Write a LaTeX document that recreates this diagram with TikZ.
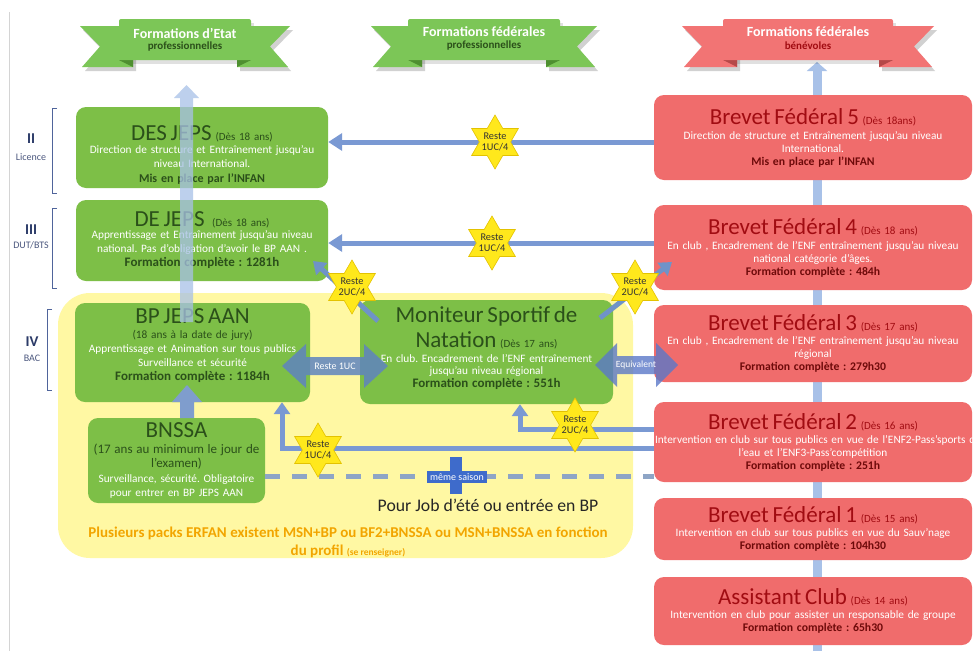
\documentclass[tikz,border=0pt]{standalone}
\usepackage{fontspec}
\setmainfont{Carlito}
\usetikzlibrary{shapes.geometric,arrows.meta,calc}
\definecolor{gfill}{HTML}{7DBF47}
\definecolor{gban}{HTML}{7CC657}
\definecolor{gbandark}{HTML}{4E8F30}
\definecolor{gdark}{HTML}{2B501A}
\definecolor{rfill}{HTML}{F06C6C}
\definecolor{rban}{HTML}{F27474}
\definecolor{rbandark}{HTML}{B54848}
\definecolor{rdark}{HTML}{A10C12}
\definecolor{rbold}{HTML}{6E0A0A}
\definecolor{yfill}{HTML}{FFF8A3}
\definecolor{harrow}{HTML}{7A99D3}
\definecolor{varrow}{HTML}{A8C1E8}
\definecolor{dblue}{HTML}{5F84C0}
\definecolor{eqblue}{HTML}{5B78C8}
\definecolor{diagc}{HTML}{6F93C8}
\definecolor{starf}{HTML}{FFE81C}
\definecolor{stard}{HTML}{E3C200}
\definecolor{navy}{HTML}{2C3B68}
\definecolor{brk}{HTML}{4F649B}
\definecolor{orangeT}{HTML}{F2A500}
\definecolor{dashc}{HTML}{8EA5C6}
\definecolor{plusb}{HTML}{3E6BCB}
\definecolor{gline}{HTML}{D4D4D4}
\newcommand{\gT}[1]{{\color{gdark}\fontsize{23}{23}\selectfont #1}}
\newcommand{\gS}[1]{{\color{gdark}\fontsize{11}{11}\selectfont #1}}
\newcommand{\gB}[1]{{\color{gdark}\bfseries\fontsize{13}{14}\selectfont #1}}
\newcommand{\gBs}[1]{{\color{gdark}\bfseries\fontsize{12}{13}\selectfont #1}}
\newcommand{\rT}[1]{{\color{rdark}\fontsize{23}{23}\selectfont #1}}
\newcommand{\rS}[1]{{\color{rdark}\fontsize{11}{11}\selectfont #1}}
\newcommand{\rB}[1]{{\color{rbold}\bfseries\fontsize{11.7}{13}\selectfont #1}}
\newcommand{\myribbon}[5]{%
  \fill[black,opacity=0.18] ({#1-#3+3},30) -- ({#1-#2+17},30) -- ({#1-#2+17},71) -- ({#1-#3+5},71) -- ({#1-#3+23},50.5) -- cycle;
  \fill[black,opacity=0.18] ({#1+#3+3},30) -- ({#1+#2-11},30) -- ({#1+#2-11},71) -- ({#1+#3+1},71) -- ({#1+#3-17},50.5) -- cycle;
  \fill[black,opacity=0.12] ({#1-#2+3},23) rectangle ({#1+#2+3},64);
  \fill[#4] ({#1-#3},26) -- ({#1-#2+14},26) -- ({#1-#2+14},67) -- ({#1-#3+2},67) -- ({#1-#3+20},46.5) -- cycle;
  \fill[#4] ({#1+#3},26) -- ({#1+#2-14},26) -- ({#1+#2-14},67) -- ({#1+#3-2},67) -- ({#1+#3-20},46.5) -- cycle;
  \fill[#5] ({#1-#2},60) -- ({#1-#2+14},67) -- ({#1-#2+14},60) -- cycle;
  \fill[#5] ({#1+#2},60) -- ({#1+#2-14},67) -- ({#1+#2-14},60) -- cycle;
  \fill[#4, rounded corners=2pt] ({#1-#2},19) rectangle ({#1+#2},60);
}
\tikzset{
  gbox/.style={fill=gfill, rounded corners=10pt, align=center, inner sep=0pt, text=white, font=\fontsize{11.3}{14}\selectfont},
  rbox/.style={fill=rfill, rounded corners=10pt, align=center, inner sep=0pt, text=white, font=\fontsize{11.3}{13}\selectfont, minimum width=318pt, text width=316pt},
  starshape/.style={star, star points=6, star point ratio=1.73, minimum size=54pt, inner sep=0pt, fill=starf, draw=stard, line width=0.6pt},
  startext/.style={align=center, inner sep=0pt, font=\fontsize{10.3}{11.5}\selectfont, text=black!80},
  hline/.style={draw=harrow, line width=5pt, -{Triangle[length=14pt,width=17pt]}},
  vline/.style={draw=harrow, line width=5pt, -{Triangle[length=12pt,width=16pt]}},
  diag/.style={draw=diagc, line width=5pt, -{Triangle[length=12pt,width=16pt]}},
  lvl/.style={text=navy, font=\bfseries\fontsize{15}{15}\selectfont, inner sep=0pt},
  lvls/.style={text=navy!85, font=\fontsize{10}{10}\selectfont, inner sep=0pt},
  bant/.style={text=white, font=\bfseries\fontsize{14}{14}\selectfont, inner sep=0pt},
  bans/.style={font=\bfseries\fontsize{11}{11}\selectfont, inner sep=0pt},
  dbltext/.style={text=white, font=\fontsize{10}{10}\selectfont, inner sep=0pt}
}
\begin{document}
\frenchspacing
\begin{tikzpicture}[x=1pt,y=-1pt]
\useasboundingbox (0,0) rectangle (974,651);
\fill[white] (0,0) rectangle (974,651);
\draw[gline, line width=1pt] (9,12) -- (9,651);
% right vertical arrow
\coordinate (rvbot) at (817,651);
\coordinate (rvtop) at (817,62);
\draw[varrow, line width=9pt, -{Triangle[length=9pt,width=20pt]}] (rvbot) -- (rvtop);
% banners
\myribbon{185}{66}{105}{gban}{gbandark}
\myribbon{484}{76}{113}{gban}{gbandark}
\myribbon{808}{85}{126}{rban}{rbandark}
\node[bant] (b1t) at (185,33) {Formations d’Etat};
\node[bans,text=gdark] (b1s) at (185,47) {professionnelles};
\node[bant] (b2t) at (484,32) {Formations fédérales};
\node[bans,text=gdark] (b2s) at (484,46) {professionnelles};
\node[bant] (b3t) at (808,32) {Formations fédérales};
\node[bans,text=rdark] (b3s) at (808,46) {bénévoles};
% level labels
\node[lvl] (l2) at (31,139) {II};
\node[lvls] (l2s) at (31,157) {Licence};
\draw[brk, line width=1pt] (57,108) -- (52,108) -- (52,193) -- (57,193);
\node[lvl] (l3) at (31,230) {III};
\node[lvls] (l3s) at (31,245) {DUT/BTS};
\draw[brk, line width=1pt] (57,208) -- (52,208) -- (52,288) -- (57,288);
\node[lvl] (l4) at (32,342) {IV};
\node[lvls] (l4s) at (32,358) {BAC};
\draw[brk, line width=1pt] (52,309) -- (47,309) -- (47,390) -- (52,390);
% yellow area
\fill[yfill, rounded corners=32pt] (58,293) rectangle (633,558);
% boxes
\node[gbox, minimum width=252pt, minimum height=81pt, text width=250pt, font=\fontsize{11.3}{14.5}\selectfont] (desjeps) at (202,147.5)
 {\rule{0pt}{30pt}\gT{DES JEPS} \gS{(Dès 18 ans)}\\[-2pt]
  Direction de structure et Entraînement jusqu’au\\
  niveau International.\\
  \gBs{Mis en place par l’INFAN}};
\node[gbox, minimum width=252pt, minimum height=81pt, text width=250pt] (dejeps) at (202,240.5)
 {\gT{DE JEPS} \ \gS{(Dès 18 ans)}\\[-2pt]
  Apprentissage et Entraînement jusqu’au niveau\\
  national. Pas d’obligation d’avoir le BP AAN .\\
  \gB{Formation complète : 1281h}};
\node[gbox, minimum width=235pt, minimum height=99pt, text width=233pt] (bpjeps) at (192.5,352.5)
 {\gT{BP JEPS AAN}\\[1pt]
  {\color{gdark}(18 ans à la date de jury)}\\
  Apprentissage et Animation sur tous publics\\
  Surveillance et sécurité\\
  \gB{Formation complète : 1184h}\\[2pt]\mbox{}};
\node[gbox, minimum width=177pt, minimum height=85pt, text width=175pt] (bnssa) at (176.5,460.5)
 {\gT{BNSSA}\\[2pt]
  {\color{gdark}\fontsize{13}{14}\selectfont (17 ans au minimum le jour de\\
  l’examen)}\\[1pt]
  Surveillance, sécurité. Obligatoire\\
  pour entrer en BP JEPS AAN};
\node[gbox, minimum width=253pt, minimum height=104pt, text width=251pt, font=\fontsize{11.3}{12.5}\selectfont] (msn) at (486.5,352)
 {\gT{Moniteur Sportif de}\\[5pt]
  \gT{Natation} \gS{(Dès 17 ans)}\\[2pt]
  En club. Encadrement de l’ENF entraînement\\
  jusqu’au niveau régional\\
  \gB{Formation complète : 551h}\\[-2pt]\mbox{}};
% red boxes
\node[rbox, minimum height=85pt] (bf5) at (813,137.5)
 {\rT{Brevet Fédéral 5} \rS{(Dès 18ans)}\\[2pt]
  Direction de structure et Entraînement jusqu’au niveau\\
  International.\\
  \rB{Mis en place par l’INFAN}};
\node[rbox, minimum height=85pt] (bf4) at (813,247.5)
 {\rT{Brevet Fédéral 4} \rS{(Dès 18 ans)}\\[2pt]
  En club , Encadrement de l’ENF entraînement jusqu’au niveau\\
  national catégorie d’âges.\\
  \rB{Formation complète : 484h}};
\node[rbox, minimum height=77pt] (bf3) at (813,343.5)
 {\rT{Brevet Fédéral 3} \rS{(Dès 17 ans)}\\[1pt]
  En club , Encadrement de l’ENF entraînement jusqu’au niveau\\
  régional\\
  \rB{Formation complète : 279h30}};
\node[rbox, minimum height=80pt] (bf2) at (813,442)
 {\rT{Brevet Fédéral 2} \rS{(Dès 16 ans)}\\[1pt]
  \mbox{Intervention en club sur tous publics en vue de l’ENF2-Pass’sports de}\\
  l’eau et l’ENF3-Pass’compétition\\
  \rB{Formation complète : 251h}};
\node[rbox, minimum height=62pt] (bf1) at (813,529)
 {\rT{Brevet Fédéral 1} \rS{(Dès 15 ans)}\\[1pt]
  Intervention en club sur tous publics en vue du Sauv’nage\\
  \rB{Formation complète : 104h30}};
\node[rbox, minimum height=68pt] (ac) at (813,611)
 {\rT{Assistant Club} \rS{(Dès 14 ans)}\\[1pt]
  Intervention en club pour assister un responsable de groupe\\
  \rB{Formation complète : 65h30}};
% stars (positions)
\coordinate (s1p) at (495,142);
\coordinate (s2p) at (492,243);
% horizontal arrows
\draw[hline] (bf5.west |- s1p) -- (desjeps.east |- s1p);
\draw[hline] (bf4.west |- s2p) -- (dejeps.east |- s2p);
% BF2 connectors
\draw[vline] (bf2.west |- 0,429) -| (520,0 |- msn.south);
\draw[vline] (bf2.west |- 0,448) -| (282,0 |- bpjeps.south);
% dashed
\draw[dashc, line width=5pt, dash pattern=on 15pt off 12pt] (bnssa.east |- 0,476) -- (bf2.west |- 0,476);
% big translucent arrow
\fill[varrow, opacity=0.75] (180,322) -- (180,98) -- (174,98) -- (186.5,85) -- (199,98) -- (193,98) -- (193,322) -- cycle;
% BNSSA -> BP
\fill[dblue!80!white] (180,418) -- (180,402) -- (172,402) -- (187,385) -- (202,402) -- (194,402) -- (194,418) -- cycle;
% double arrows
\fill[dblue, opacity=0.85] (282,366) -- (306,344) -- (306,357) -- (364,357) -- (364,344) -- (388,366) -- (364,388) -- (364,375) -- (306,375) -- (306,388) -- cycle;
\node[dbltext] (d1t) at (335,366) {Reste 1UC};
\fill[eqblue, opacity=0.8] (595,365) -- (617,343) -- (617,356) -- (656,356) -- (656,343) -- (678,365) -- (656,387) -- (656,374) -- (617,374) -- (617,387) -- cycle;
\node[dbltext, font=\fontsize{9.5}{10}\selectfont] (d2t) at (636,365) {Equivalent};
% diagonal arrows
\draw[diag] (378,321) -- (313,261);
\draw[diag] (600,318) -- (672,262);
% stars
\node[starshape] (s1) at (s1p) {};
\node[startext] at (s1) {Reste\\1UC/4};
\node[starshape] (s2) at (s2p) {};
\node[startext] at (s2) {Reste\\1UC/4};
\node[starshape] (s3) at (352,287) {};
\node[startext] at (s3) {Reste\\2UC/4};
\node[starshape] (s4) at (635,287) {};
\node[startext] at (s4) {Reste\\2UC/4};
\node[starshape] (s5) at (575,425) {};
\node[startext] at (s5) {Reste\\2UC/4};
\node[starshape] (s6) at (318,450) {};
\node[startext] at (s6) {Reste\\1UC/4};
% plus
\fill[plusb] (450,457) rectangle (462,494);
\node[fill=plusb, text=white, font=\fontsize{10}{10}\selectfont, inner sep=1pt, minimum width=60pt, minimum height=12pt] (ms) at (457,477) {même saison};
\node[text=black!85, font=\fontsize{17.7}{18}\selectfont, inner sep=0pt] (job) at (488,505) {Pour Job d’été ou entrée en BP};
\node[text=orangeT, font=\bfseries\fontsize{15}{18}\selectfont, align=center, inner sep=0pt] (packs) at (348,542)
 {Plusieurs packs ERFAN existent MSN+BP ou BF2+BNSSA ou MSN+BNSSA en fonction\\
  du profil {\fontsize{9.5}{10}\selectfont (se renseigner)}};
\end{tikzpicture}
\end{document}
